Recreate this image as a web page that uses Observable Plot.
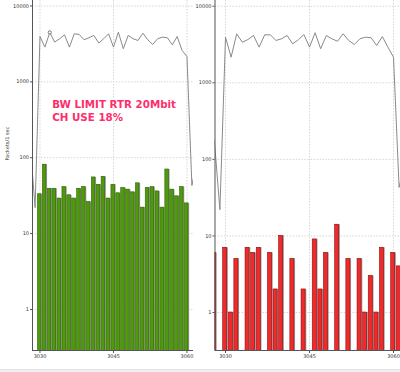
<!DOCTYPE html>
<html>
<head>
<meta charset="utf-8">
<script src="https://cdn.jsdelivr.net/npm/d3@7"></script>
<script src="https://cdn.jsdelivr.net/npm/@observablehq/plot@0.6"></script>
<style>
  html, body { margin: 0; padding: 0; background: #fff; }
  #wrap { position: relative; width: 400px; height: 372px; overflow: hidden; background: #fff; }
  #wrap > div.panel { position: absolute; top: 0; }
  #strip { position: absolute; left: 0; top: 369px; width: 400px; height: 3px; background: #f0f0f0; border-top: 1px solid #e2e2e2; }
</style>
</head>
<body>
<div id="wrap">
  <div class="panel" id="left" style="left:0px"></div>
  <div class="panel" id="right" style="left:200px"></div>
  <div id="strip"></div>
</div>
<script>
// ---- data ----
const xTicks = [3030, 3045, 3060];
const yTicks = [1, 10, 100, 1000, 10000];
const yAxisTitle = "Packets/1 sec";
const annotation = ["BW LIMIT RTR 20Mbit", "CH USE 18%"];

// left panel: green bars (3030..3060)
const leftBarX = d3.range(3030, 3061);
const leftBarV = [33, 81, 39, 39, 29, 41, 32, 29, 39, 41, 26, 55, 44, 56, 29, 44, 34, 40, 38, 35, 46, 22, 40, 41, 36, 22, 70, 38, 31, 41, 25];

// left panel: grey line (3028..3062)
const leftLineX = d3.range(3028, 3063);
const leftLineV = [150, 22, 3960, 2870, 4480, 3340, 3700, 4170, 2870, 4300, 4210, 3590, 3810, 4090, 3240, 3700, 4300, 2870, 4520, 2730, 4090, 3700, 3510, 4380, 3590, 3110, 3700, 3880, 3810, 3080, 3960, 2590, 2160, 43, 90];
const leftMarkerX = [3032];
const leftMarkerV = [4480];

// right panel: red bars
const rightBarX = [3028, 3030, 3031, 3032, 3034, 3035, 3036, 3038, 3039, 3040, 3042, 3044, 3046, 3047, 3048, 3050, 3052, 3054, 3055, 3056, 3057, 3058, 3060, 3061];
const rightBarV = [6, 7, 1, 5, 7, 6, 7, 6, 2, 10, 5, 2, 9, 2, 6, 14, 5, 5, 1, 3, 1, 7, 6, 4];

// right panel: grey line (3028..3062)
const rightLineX = d3.range(3028, 3063);
const rightLineV = [180, 22, 3940, 2160, 4360, 3390, 3670, 4140, 2920, 4230, 4230, 3570, 3750, 4140, 3230, 3640, 4270, 2920, 4500, 2780, 4140, 3750, 3490, 4360, 3570, 3160, 3750, 3940, 3870, 3070, 4020, 2920, 2160, 43, 90];

const zip = (xs, vs) => xs.map((x, i) => ({x, v: vs[i]}));
const leftBars = zip(leftBarX, leftBarV);
const leftLine = zip(leftLineX, leftLineV);
const leftMarker = zip(leftMarkerX, leftMarkerV);
const rightBars = zip(rightBarX, rightBarV);
const rightLine = zip(rightLineX, rightLineV);

const fmt = d3.format("d");
const axisFont = {fontFamily: "'DejaVu Sans', sans-serif", fontSize: "5px", color: "#333", background: "transparent", overflow: "visible"};
const noteStyle = {textAnchor: "start", fontSize: 10.3, fontWeight: "bold", fill: "#ff2d6c", stroke: "#fff", strokeWidth: 2.2, paintOrder: "stroke", style: "filter: drop-shadow(1px 1px 1px rgba(0,0,0,0.4))"};

function panel({bars, line, marker, xDomain, yDomain, marginLeft, marginRight, fill, stroke, withTitle, withNote}) {
  const floor = yDomain[0] / 2;
  const marks = [
    Plot.gridX(xTicks, {stroke: "#d6d6d6", strokeOpacity: 1, strokeDasharray: "1.5,1.5"}),
    Plot.gridY(yTicks, {stroke: "#d6d6d6", strokeOpacity: 1, strokeDasharray: "1.5,1.5"}),
    Plot.rect(bars, {x1: d => d.x - 0.42, x2: d => d.x + 0.3, y1: floor, y2: "v", fill: "#9a9a9a", dx: 1.2, clip: true}),
    Plot.rect(bars, {x1: d => d.x - 0.42, x2: d => d.x + 0.3, y1: floor, y2: "v", fill, stroke, strokeWidth: 0.6, clip: true}),
    Plot.line(line, {x: "x", y: "v", stroke: "#8a8a8a", strokeWidth: 1, clip: true}),
    Plot.ruleX([xDomain[0]], {stroke: "#555", strokeWidth: 1}),
    Plot.ruleY([yDomain[0]], {stroke: "#555", strokeWidth: 1}),
    Plot.axisX(xTicks, {tickFormat: fmt, tickSize: 3, tickPadding: 1, stroke: "#555", fill: "#333", label: null}),
    Plot.axisY(yTicks, {tickFormat: fmt, tickSize: 2, tickPadding: 1.5, stroke: "#555", fill: "#333", label: null})
  ];
  if (marker) marks.push(Plot.dot(marker, {x: "x", y: "v", r: 1.6, stroke: "#555", strokeWidth: 0.8, fill: "#fff"}));
  if (withTitle) marks.push(Plot.text([yAxisTitle], {frameAnchor: "left", rotate: -90, dx: -25, dy: -15, fontSize: 5, fill: "#333"}));
  if (withNote) {
    marks.push(Plot.text([annotation[0]], {x: 3032.5, y: 500, ...noteStyle}));
    marks.push(Plot.text([annotation[1]], {x: 3032.5, y: 335, ...noteStyle}));
  }
  return Plot.plot({
    width: 200, height: 372,
    marginLeft, marginRight, marginTop: 0, marginBottom: 22,
    style: axisFont,
    x: {domain: xDomain, axis: null},
    y: {type: "log", domain: yDomain, axis: null},
    marks
  });
}

const L = panel({
  bars: leftBars, line: leftLine, marker: leftMarker,
  xDomain: [3028.47, 3061.33], yDomain: [0.288, 11810],
  marginLeft: 32, marginRight: 7,
  fill: "#4f9a0c", stroke: "#2f6404", withTitle: true, withNote: true
});
const R = panel({
  bars: rightBars, line: rightLine, marker: null,
  xDomain: [3028.125, 3061.25], yDomain: [0.319, 11870],
  marginLeft: 14.5, marginRight: 0,
  fill: "#f02a2a", stroke: "#8e0e0e", withTitle: false, withNote: false
});
document.getElementById("left").appendChild(L);
document.getElementById("right").appendChild(R);
</script>
</body>
</html>
